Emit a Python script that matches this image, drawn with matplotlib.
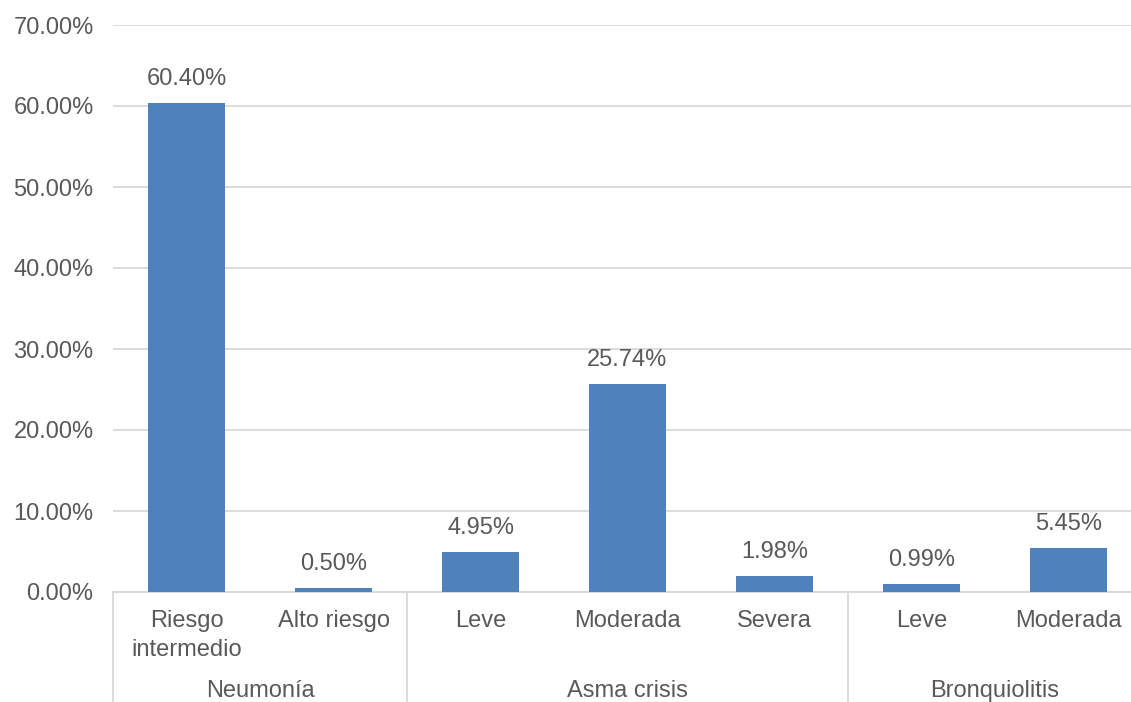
import matplotlib.pyplot as plt
import matplotlib.transforms as mtransforms
from matplotlib.ticker import FuncFormatter

plt.rcParams['font.family'] = ['Liberation Sans', 'DejaVu Sans']

categories = ['Riesgo\nintermedio', 'Alto riesgo', 'Leve', 'Moderada', 'Severa', 'Leve', 'Moderada']
values = [60.40, 0.50, 4.95, 25.74, 1.98, 0.99, 5.45]
groups = ['Neumonía', 'Asma crisis', 'Bronquiolitis']
group_sizes = [2, 3, 2]

bar_color = '#4F81BD'
text_color = '#595959'
line_color = '#D9D9D9'
fs = 17

fig = plt.figure(figsize=(11.31, 7.02), dpi=100)
ax = fig.add_axes([113 / 1131, 110 / 702, 1029 / 1131, 567 / 702])

x = list(range(len(values)))
ax.bar(x, values, width=0.53, color=bar_color, zorder=3)
ax.set_xlim(-0.5, len(values) - 0.5)
ax.set_ylim(0, 70)
ax.set_yticks(range(0, 71, 10))
ax.yaxis.set_major_formatter(FuncFormatter(lambda v, _: f'{v:.2f}%'))
ax.tick_params(axis='y', length=0, pad=14, labelsize=fs, labelcolor=text_color)
ax.tick_params(axis='x', length=0, labelbottom=False)
ax.grid(axis='y', color=line_color, linewidth=1.3, zorder=0)
for s in ['top', 'right', 'left']:
    ax.spines[s].set_visible(False)
ax.spines['bottom'].set_color(line_color)
ax.spines['bottom'].set_linewidth(1.3)

# value labels above bars
for xi, v in zip(x, values):
    ax.annotate(f'{v:.2f}%', (xi, v), xytext=(0, 17), textcoords='offset points',
                ha='center', va='center', fontsize=fs, color=text_color)

trans = mtransforms.blended_transform_factory(ax.transData, ax.transAxes)
h = 567
for xi, lab in zip(x, categories):
    ax.text(xi, -18 / h, lab, transform=trans, ha='center', va='top',
            fontsize=fs, color=text_color, linespacing=1.4)

# group labels and separators
start = 0
edges = [-0.5]
for g, n in zip(groups, group_sizes):
    center = start + (n - 1) / 2
    ax.text(center, -99 / h, g, transform=trans, ha='center', va='center',
            fontsize=fs, color=text_color)
    start += n
    edges.append(start - 0.5)
for e in edges:
    ax.plot([e, e], [0, -110 / h], transform=trans, color=line_color,
            linewidth=1.3, clip_on=False)

fig.savefig('out.png', dpi=100)
